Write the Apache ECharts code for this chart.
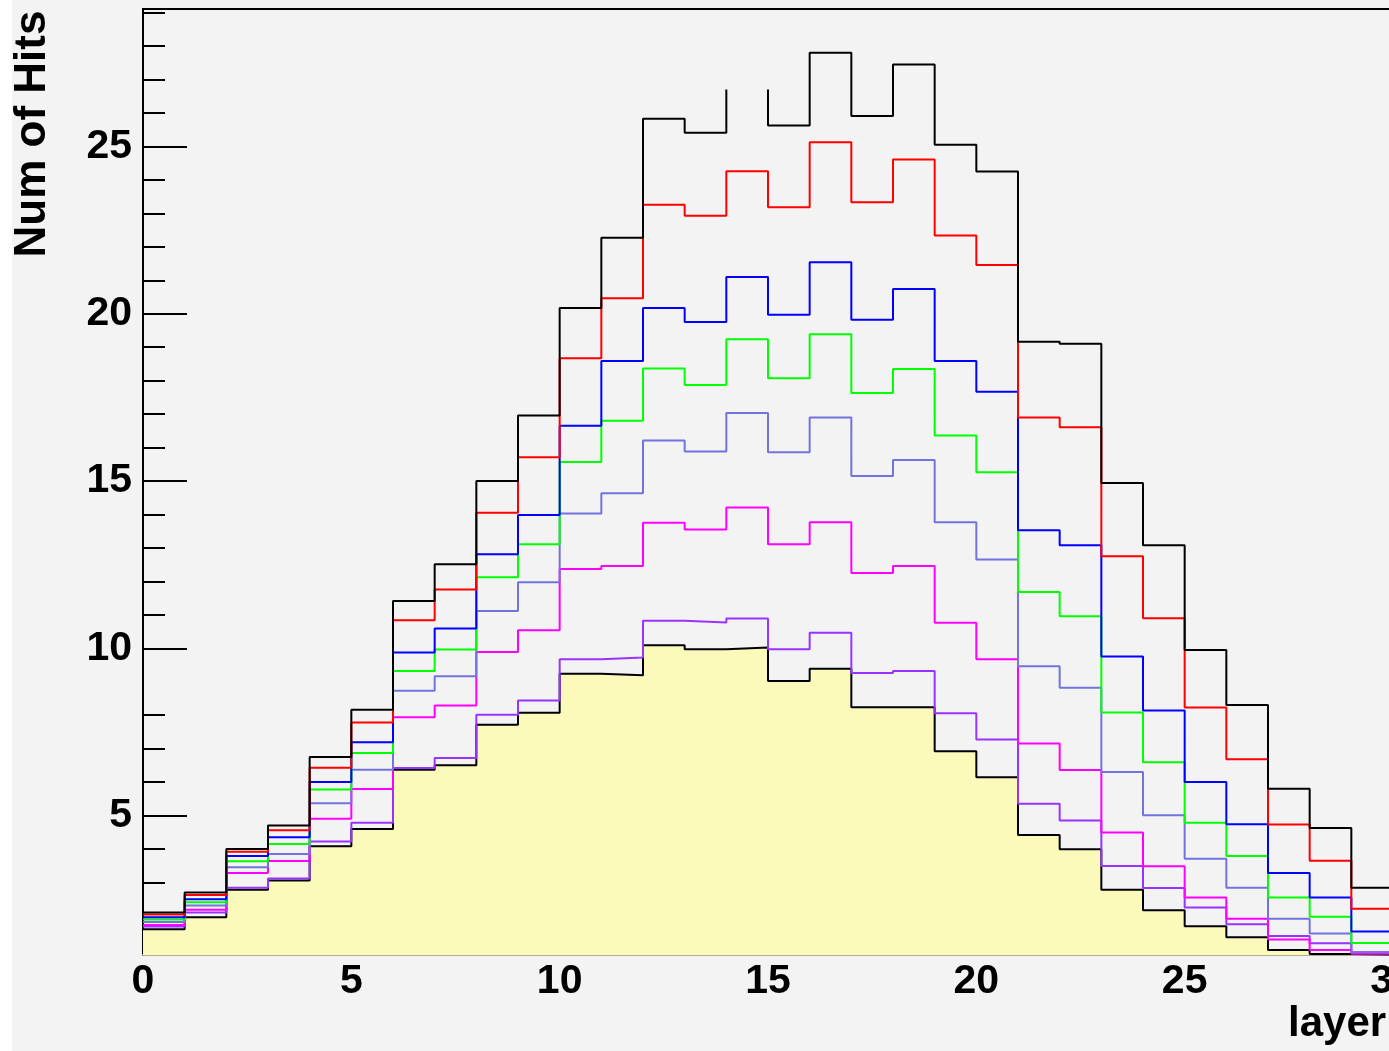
<!DOCTYPE html>
<html>
<head>
<meta charset="utf-8">
<title>Num of Hits per layer</title>
<script src="https://cdn.jsdelivr.net/npm/echarts@6/dist/echarts.min.js"></script>
<style>
    html, body { margin: 0; padding: 0; background: #fff; }
    #hits { width: 1389px; height: 1051px; }
</style>
</head>
<body>
<div id="hits"></div>
<script>
// one value per layer bin (0..29)
var hBlack   = [2.10, 2.70, 4.00, 4.70, 6.75, 8.16, 11.41, 12.51, 15.00, 16.96, 20.17, 22.27, 25.83, 25.41, 26.70, 25.63, 27.80, 25.91, 27.45, 25.05, 24.25, 19.16, 19.10, 14.94, 13.08, 9.95, 8.30, 5.80, 4.63, 2.84];
var hRed     = [2.04, 2.62, 3.92, 4.56, 6.43, 7.78, 10.84, 11.76, 14.05, 15.71, 18.67, 20.46, 23.26, 22.93, 24.26, 23.18, 25.13, 23.33, 24.61, 22.34, 21.46, 16.90, 16.61, 12.75, 10.90, 8.23, 6.68, 4.73, 3.65, 2.21];
var hBlue    = [1.96, 2.50, 3.79, 4.35, 6.00, 7.19, 9.87, 10.59, 12.81, 13.98, 16.65, 18.59, 20.17, 19.75, 21.10, 19.97, 21.54, 19.82, 20.74, 18.59, 17.67, 13.53, 13.08, 9.75, 8.14, 6.00, 4.74, 3.28, 2.55, 1.53];
var hGreen   = [1.89, 2.41, 3.63, 4.15, 5.78, 6.87, 9.32, 9.96, 12.12, 13.11, 15.57, 16.80, 18.36, 17.87, 19.24, 18.07, 19.39, 17.63, 18.35, 16.36, 15.26, 11.68, 10.96, 8.08, 6.59, 4.78, 3.79, 2.55, 1.97, 1.19];
var hSlate   = [1.82, 2.31, 3.45, 3.85, 5.37, 6.37, 8.73, 9.16, 11.11, 11.97, 14.03, 14.63, 16.21, 15.88, 17.03, 15.86, 16.90, 15.15, 15.63, 13.77, 12.65, 9.46, 8.82, 6.30, 5.01, 3.71, 2.84, 1.91, 1.47, 0.91];
var hMagenta = [1.73, 2.18, 3.28, 3.64, 4.90, 5.79, 7.94, 8.29, 9.89, 10.54, 12.37, 12.46, 13.75, 13.55, 14.21, 13.11, 13.77, 12.25, 12.46, 10.76, 9.67, 7.15, 6.36, 4.49, 3.48, 2.55, 1.91, 1.29, 0.98, 0.87];
var hViolet  = [1.68, 2.10, 2.84, 3.12, 4.22, 4.78, 6.42, 6.72, 8.01, 8.44, 9.67, 9.72, 10.82, 10.77, 10.89, 9.97, 10.46, 9.26, 9.32, 8.06, 7.27, 5.35, 4.85, 3.49, 2.83, 2.25, 1.75, 1.40, 1.18, 0.91];
var hBase    = [1.60, 1.96, 2.78, 3.06, 4.08, 4.60, 6.37, 6.50, 7.71, 8.07, 9.24, 9.19, 10.09, 9.97, 10.02, 9.02, 9.39, 8.24, 8.24, 6.92, 6.14, 4.42, 3.99, 2.78, 2.17, 1.69, 1.36, 0.98, 0.86, 0.84];
// top edge of this black bin is not drawn in the original, only its sides
var hBlackHidden = [14];

var yLabels = [5, 10, 15, 20, 25];
var yMinor = [3, 4, 6, 7, 8, 11, 12, 13, 14, 16, 17, 18, 19, 21, 22, 23, 24, 26, 27, 28, 29];
var yMin = 0.83, yMax = 29.11;

var font = 'Liberation Sans, Arial, Helvetica, sans-serif';

// histogram outline as step points: left and right edge of every bin
function steps(vals, hidden) {
    var pts = [];
    for (var i = 0; i < vals.length; i++) {
        if (hidden && hidden.indexOf(i) >= 0) {
            pts.push([i, vals[i]], [i + 0.5, '-'], [i + 1, vals[i]]);
        } else {
            pts.push([i, vals[i]], [i + 1, vals[i]]);
        }
    }
    return pts;
}

function hist(name, vals, color, hidden) {
    return {
        name: name,
        type: 'line',
        data: steps(vals, hidden),
        symbol: 'none',
        connectNulls: false,
        lineStyle: { color: color, width: 2 },
        itemStyle: { color: color },
        xAxisIndex: 0,
        yAxisIndex: 0
    };
}

var base = hist('base', hBase, '#000000');
base.areaStyle = { color: '#fcfabb', opacity: 1, origin: 'start' };

var myChart = echarts.init(document.getElementById('hits'));
option = {
    backgroundColor: '#f3f3f3',
    animation: false,
    grid: { left: 143, top: 9, right: -4, bottom: 96, outerBoundsMode: 'none' },
    xAxis: [
        {
            type: 'value', min: 0, max: 30, interval: 5, position: 'bottom',
            axisLine: { lineStyle: { color: '#aeab8c', width: 2 } },
            axisTick: { show: false },
            splitLine: { show: false },
            axisLabel: { color: '#000', fontSize: 41, fontWeight: 'bold', fontFamily: font, margin: 6, hideOverlap: false }
        },
        {
            type: 'value', min: 0, max: 30, position: 'top',
            axisLine: { lineStyle: { color: '#000', width: 2 } },
            axisTick: { show: false },
            splitLine: { show: false },
            axisLabel: { show: false }
        }
    ],
    yAxis: [
        {
            type: 'value', min: yMin, max: yMax, position: 'left',
            axisLine: { show: true, lineStyle: { color: '#000', width: 2 } },
            axisTick: { inside: true, length: 44, customValues: yLabels, lineStyle: { color: '#000', width: 2 } },
            splitLine: { show: false },
            axisLabel: { customValues: yLabels, color: '#000', fontSize: 41, fontWeight: 'bold', fontFamily: font, margin: 11 }
        },
        {
            type: 'value', min: yMin, max: yMax, position: 'left',
            axisLine: { show: false },
            axisTick: { inside: true, length: 22, customValues: yMinor, lineStyle: { color: '#000', width: 2 } },
            splitLine: { show: false },
            axisLabel: { show: false }
        }
    ],
    graphic: [
        { type: 'rect', left: 0, top: 0, shape: { width: 12, height: 1051 }, style: { fill: '#ffffff' } },
        {
            type: 'text', x: 33, y: 134, rotation: Math.PI / 2,
            style: { text: 'Num of Hits', fill: '#000', font: 'bold 44px ' + font, align: 'center', verticalAlign: 'middle' }
        },
        {
            type: 'text', x: 1288, y: 1024,
            style: { text: 'layer', fill: '#000', font: 'bold 42px ' + font, align: 'left', verticalAlign: 'middle' }
        }
    ],
    series: [
        base,
        hist('violet', hViolet, '#9933ff'),
        hist('magenta', hMagenta, '#ff00ff'),
        hist('slate', hSlate, '#7373dd'),
        hist('green', hGreen, '#00ff00'),
        hist('blue', hBlue, '#0000ff'),
        hist('red', hRed, '#ff0000'),
        hist('black', hBlack, '#000000', hBlackHidden)
    ]
};
myChart.setOption(option);
</script>
</body>
</html>
